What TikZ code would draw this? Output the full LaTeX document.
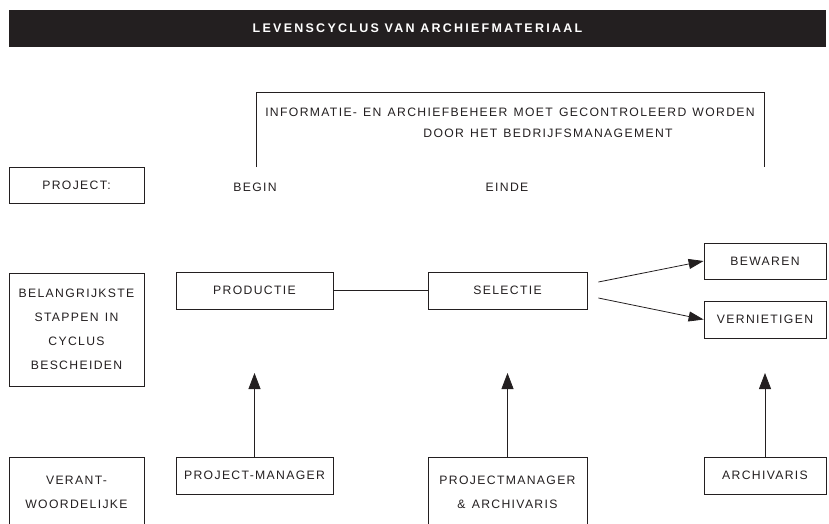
\documentclass[tikz,border=0pt]{standalone}
\usepackage{fontspec}
\setmainfont{Liberation Sans}
\newfontfamily\lab[LetterSpace=11,WordSpace=1.3]{Liberation Sans}
\newfontfamily\ttl[LetterSpace=18]{Liberation Sans}
\usetikzlibrary{arrows.meta,calc}
\definecolor{ink}{HTML}{231F20}
\tikzset{
  box/.style={draw=ink, line width=0.8pt, inner sep=0pt, align=center,
    font=\lab\fontsize{12.2}{24}\selectfont, text=ink},
  txt/.style={inner sep=0pt, font=\lab\fontsize{12.2}{24}\selectfont, text=ink},
  conn/.style={draw=ink, line width=0.8pt},
  arr/.style={conn, -{Triangle[length=16pt,width=12pt]}},
  darr/.style={conn, -{Triangle[length=15pt,width=10pt]}}
}
\begin{document}
\begin{tikzpicture}[x=1pt,y=-1pt]
\useasboundingbox (0,0) rectangle (829,523);
\clip (0,0) rectangle (829,523);
% title bar
\node[fill=ink, minimum width=817pt, minimum height=37pt, inner sep=0pt,
  text=white, font=\ttl\bfseries\fontsize{12.5}{14}\selectfont] (title) at (417.5,28.5)
  {LEVENSCYCLUS VAN ARCHIEFMATERIAAL};
% bracket and its text
\coordinate (bl) at (256,167);
\coordinate (tl) at (256,92);
\coordinate (tr) at (764,92);
\coordinate (br) at (764,167);
\draw[conn] (bl) -- (tl) -- (tr) -- (br);
\node[txt] (ctrl1) at (510,112) {INFORMATIE- EN ARCHIEFBEHEER MOET GECONTROLEERD WORDEN};
\node[txt] (ctrl2) at (548,133) {DOOR HET BEDRIJFSMANAGEMENT};
% left column
\node[box, minimum width=135pt, minimum height=36pt] (project) at (76.5,185) {PROJECT:};
\node[box, minimum width=135pt, minimum height=113pt] (stappen) at (76.5,329.5)
  {BELANGRIJKSTE\\STAPPEN IN\\CYCLUS\\BESCHEIDEN};
\node[box, minimum width=135pt, minimum height=70pt, anchor=north] (verant) at (76.5,457)
  {VERANT-\\WOORDELIJKE};
% begin / einde
\node[txt] (begin) at (255,187) {BEGIN};
\node[txt] (einde) at (507,187) {EINDE};
% steps
\node[box, minimum width=157pt, minimum height=37pt] (productie) at (254.5,290.5) {PRODUCTIE};
\node[box, minimum width=159pt, minimum height=37pt] (selectie) at (507.5,290.5) {SELECTIE};
\node[box, minimum width=122pt, minimum height=36pt] (bewaren) at (765,261) {BEWAREN};
\node[box, minimum width=122pt, minimum height=37pt] (vern) at (765,319.5) {VERNIETIGEN};
% responsible
\node[box, minimum width=157pt, minimum height=37pt] (pm) at (254.5,475.5) {PROJECT-MANAGER};
\node[box, minimum width=159pt, minimum height=70pt, anchor=north] (pma) at (507.5,457)
  {PROJECTMANAGER\\\& ARCHIVARIS};
\node[box, minimum width=122pt, minimum height=37pt] (arch) at (765,475.5) {ARCHIVARIS};
% connectors
\draw[conn] (productie.east) -- (selectie.west);
\coordinate (s1) at ($(selectie.east)+(11,-8.5)$);
\coordinate (s2) at ($(selectie.east)+(11,7.5)$);
\draw[darr] (s1) -- (bewaren.west);
\draw[darr] (s2) -- (vern.west);
\coordinate (t1) at (254.5,373);
\coordinate (t2) at (507.5,373);
\coordinate (t3) at (765,373);
\draw[arr] (pm.north) -- (t1);
\draw[arr] (pma.north) -- (t2);
\draw[arr] (arch.north) -- (t3);
\end{tikzpicture}
\end{document}
